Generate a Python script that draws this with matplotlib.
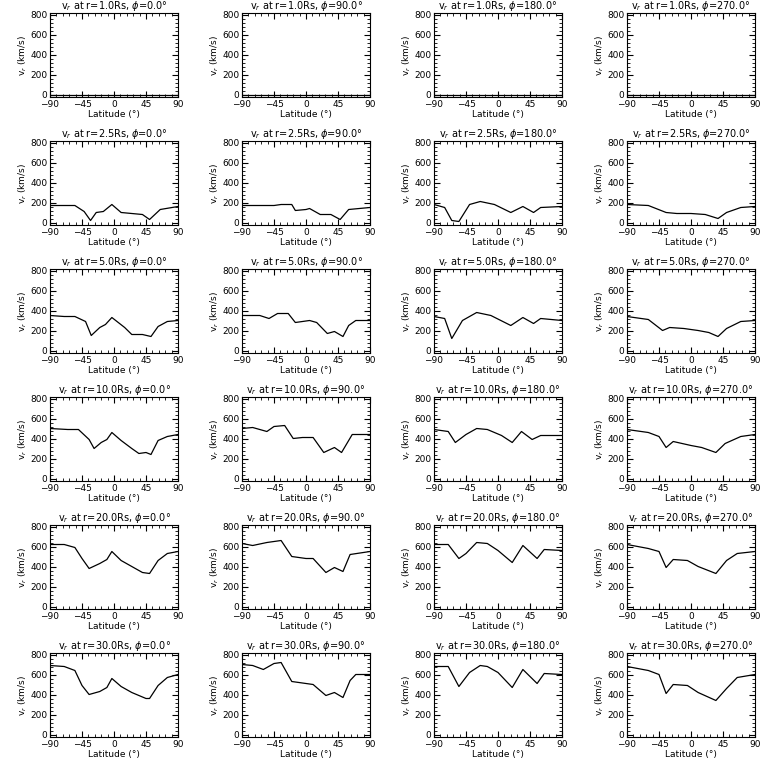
import matplotlib
matplotlib.use("Agg")
import matplotlib.pyplot as plt
from matplotlib.ticker import MultipleLocator

radii = [1.0, 2.5, 5.0, 10.0, 20.0, 30.0]
phis = [0.0, 90.0, 180.0, 270.0]

r1 = [[(-90, 0), (90, 0)]] * 4
r2 = [
    [(-90,170),(-55,170),(-42,110),(-33,20),(-25,100),(-15,110),(-3,180),(10,100),(25,90),(40,80),(50,30),(65,130),(90,160)],
    [(-90,170),(-45,170),(-35,180),(-20,180),(-15,120),(0,130),(5,140),(20,80),(35,80),(48,30),(60,130),(90,150)],
    [(-90,180),(-75,150),(-65,20),(-55,10),(-40,180),(-25,210),(-5,180),(18,100),(35,160),(50,100),(60,150),(90,160)],
    [(-90,180),(-60,170),(-35,100),(-20,90),(0,90),(20,80),(38,40),(50,100),(70,150),(90,160)],
]
r3 = [
    [(-90,350),(-70,340),(-55,340),(-40,290),(-32,150),(-20,230),(-12,260),(-3,330),(15,230),(25,160),(40,160),(52,140),(62,240),(75,290),(90,300)],
    [(-90,350),(-65,350),(-52,320),(-40,370),(-25,370),(-15,280),(-5,290),(5,300),(15,280),(30,170),(40,190),(52,140),(60,250),(70,300),(90,300)],
    [(-90,340),(-75,320),(-65,120),(-50,300),(-30,380),(-10,350),(18,250),(35,330),(50,270),(60,320),(90,300)],
    [(-90,340),(-60,310),(-40,200),(-30,230),(-10,220),(10,200),(25,180),(38,140),(50,220),(70,290),(90,300)],
]
r4 = [
    [(-90,500),(-65,490),(-50,490),(-35,390),(-28,300),(-18,360),(-10,390),(-3,460),(10,380),(25,300),(35,250),(45,260),(52,240),(62,380),(75,420),(90,440)],
    [(-90,500),(-75,510),(-55,470),(-45,520),(-30,530),(-18,400),(-5,410),(10,410),(25,260),(40,310),(50,260),(65,440),(90,440)],
    [(-90,490),(-70,470),(-60,360),(-45,440),(-30,500),(-15,490),(5,430),(20,360),(33,470),(48,390),(60,430),(90,430)],
    [(-90,490),(-60,460),(-45,420),(-35,310),(-25,370),(0,330),(15,310),(35,260),(48,350),(70,420),(90,440)],
]
r5 = [
    [(-90,620),(-70,620),(-55,590),(-45,480),(-35,380),(-20,430),(-10,470),(-3,550),(10,460),(25,400),(40,340),(50,330),(62,460),(75,530),(90,550)],
    [(-90,630),(-75,610),(-55,640),(-35,660),(-20,500),(0,480),(10,480),(28,340),(40,390),(52,350),(62,520),(90,550)],
    [(-90,620),(-70,620),(-55,480),(-45,530),(-30,640),(-15,630),(0,560),(20,440),(35,610),(55,480),(65,570),(90,560)],
    [(-90,620),(-60,580),(-45,550),(-35,390),(-25,470),(-5,460),(10,400),(35,330),(50,460),(65,530),(90,550)],
]
r6 = [
    [(-90,690),(-70,680),(-55,640),(-45,490),(-35,400),(-20,430),(-10,470),(-3,560),(10,480),(25,420),(45,360),(50,360),(62,490),(75,570),(90,600)],
    [(-90,700),(-75,690),(-60,650),(-45,710),(-35,720),(-20,530),(0,510),(10,500),(28,390),(40,420),(52,370),(62,540),(70,600),(90,600)],
    [(-90,680),(-70,680),(-55,480),(-40,620),(-25,690),(-15,680),(0,620),(20,470),(35,650),(55,510),(65,610),(90,600)],
    [(-90,680),(-60,640),(-45,600),(-35,410),(-25,500),(-5,490),(10,420),(35,340),(50,460),(65,570),(90,600)],
]
data = [r1, r2, r3, r4, r5, r6]

plt.rcParams['font.family'] = 'DejaVu Sans'
fig = plt.figure(figsize=(7.68, 7.68), dpi=100)
W, H = 768, 768
lefts = [50, 242, 434, 627]
tops = [13, 141, 269, 397, 525, 653]
aw, ah = 128, 84
for i, r in enumerate(radii):
    for j, p in enumerate(phis):
        ax = fig.add_axes([lefts[j]/W, 1-(tops[i]+ah)/H, aw/W, ah/H])
        pts = data[i][j]
        ax.plot([q[0] for q in pts], [q[1] for q in pts], color='black', lw=0.9)
        ax.set_xlim(-90, 90)
        ax.set_ylim(-25, 815)
        ax.set_xticks([-90, -45, 0, 45, 90])
        ax.set_yticks([0, 200, 400, 600, 800])
        ax.xaxis.set_minor_locator(MultipleLocator(9))
        ax.yaxis.set_minor_locator(MultipleLocator(40))
        ax.tick_params(which='both', direction='in', top=True, right=True, labelsize=6.5, pad=2)
        ax.tick_params(which='major', length=4)
        ax.tick_params(which='minor', length=2)
        for s in ax.spines.values():
            s.set_linewidth(0.8)
        ax.set_title(f"v$_r$ at r={r:.1f}Rs, $\\phi$={p:.1f}°", fontsize=7, pad=2)
        ax.set_xlabel("Latitude (°)", fontsize=6.5, labelpad=1)
        ax.set_ylabel("v$_r$ (km/s)", fontsize=6.5, labelpad=1)
fig.savefig("out.png", dpi=100, facecolor='white')
